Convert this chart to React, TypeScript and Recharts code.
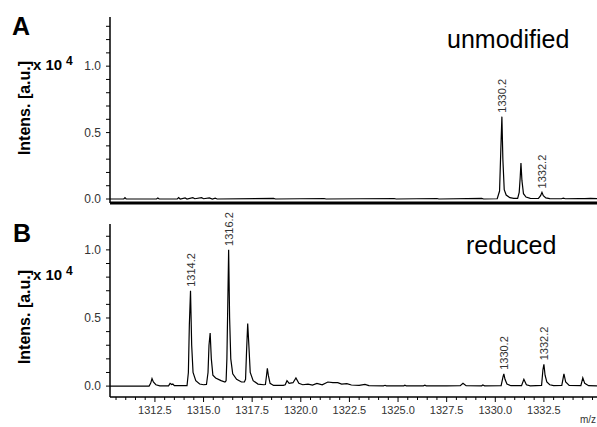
import { LineChart, Line, XAxis, YAxis, ReferenceDot } from "recharts";

// panel A: unmodified peptide spectrum (m/z, intensity x 10^4)
const topMz = [
  1310.19, 1310.9, 1310.96, 1311.02, 1312.58, 1312.65, 1312.72, 1313.65, 1313.72, 1313.8,
  1314.05, 1314.15, 1314.45, 1314.55, 1314.9, 1315.0, 1315.3, 1315.45, 1315.6, 1315.7,
  1318.6, 1318.7, 1321.2, 1321.3, 1324.8, 1324.9, 1327.0, 1327.1, 1329.3, 1329.4,
  1330.1, 1330.22, 1330.28, 1330.34, 1330.39, 1330.46, 1330.56, 1330.75, 1330.95,
  1331.15, 1331.23, 1331.28, 1331.32, 1331.37, 1331.45, 1331.58, 1331.8,
  1332.22, 1332.33, 1332.4, 1332.47, 1332.6, 1332.8,
  1333.4, 1333.5, 1333.6, 1334.3, 1334.6, 1334.9, 1335.23,
];
const topIntensity = [
  0, 0, 0.01, 0, 0, 0.008, 0, 0, 0.01, 0,
  0.008, 0, 0.01, 0.002, 0.01, 0.002, 0.008, 0, 0.006, 0,
  0.005, 0, 0.004, 0, 0.004, 0, 0.004, 0, 0.005, 0,
  0.002, 0.06, 0.35, 0.62, 0.3, 0.07, 0.03, 0.01, 0.005,
  0.005, 0.05, 0.16, 0.27, 0.14, 0.04, 0.015, 0.005,
  0.004, 0.025, 0.05, 0.025, 0.008, 0.003,
  0.002, 0.007, 0.002, 0.004, 0.003, 0.005, 0.003,
];

// panel B: reduced peptide spectrum
const bottomMz = [
  1310.19, 1312.2, 1312.28, 1312.35, 1312.42, 1312.55, 1312.75,
  1313.2, 1313.28, 1313.36, 1313.42, 1313.5,
  1314.15, 1314.22, 1314.27, 1314.33, 1314.39, 1314.46, 1314.6, 1314.8, 1315.0,
  1315.15, 1315.23, 1315.28, 1315.34, 1315.4, 1315.48, 1315.62, 1315.9, 1316.1,
  1316.16, 1316.2, 1316.24, 1316.29, 1316.34, 1316.4, 1316.5, 1316.7, 1316.95, 1317.1,
  1317.16, 1317.21, 1317.27, 1317.33, 1317.4, 1317.55, 1317.8, 1318.1,
  1318.18, 1318.24, 1318.28, 1318.33, 1318.42, 1318.6, 1319.1,
  1319.2, 1319.29, 1319.4, 1319.6, 1319.75, 1319.9, 1320.1, 1320.37, 1320.6,
  1320.83, 1321.1, 1321.39, 1321.65, 1321.9, 1322.1, 1322.37, 1322.6, 1323.0,
  1323.3, 1323.5, 1324.25, 1324.33, 1324.4, 1325.3, 1325.35, 1325.42, 1326.3, 1326.38, 1326.45,
  1327.5, 1328.2, 1328.34, 1328.5, 1329.3, 1329.36, 1329.45,
  1330.3, 1330.4, 1330.44, 1330.5, 1330.6, 1330.8,
  1331.35, 1331.47, 1331.6, 1331.8,
  1332.38, 1332.45, 1332.5, 1332.56, 1332.65, 1332.8, 1333.0,
  1333.42, 1333.53, 1333.62, 1333.8,
  1334.4, 1334.5, 1334.6, 1334.8, 1335.23,
];
const bottomIntensity = [
  0, 0, 0.02, 0.055, 0.03, 0.01, 0.002,
  0.002, 0.02, 0.012, 0.015, 0.003,
  0.003, 0.1, 0.45, 0.7, 0.3, 0.1, 0.04, 0.015, 0.01,
  0.012, 0.1, 0.3, 0.39, 0.2, 0.08, 0.06, 0.04, 0.03,
  0.04, 0.2, 0.55, 1.0, 0.5, 0.2, 0.09, 0.05, 0.03, 0.03,
  0.05, 0.25, 0.46, 0.3, 0.1, 0.04, 0.015, 0.01,
  0.012, 0.08, 0.13, 0.08, 0.02, 0.005, 0.005,
  0.01, 0.04, 0.02, 0.025, 0.06, 0.02, 0.01, 0.015, 0.008,
  0.02, 0.01, 0.03, 0.025, 0.025, 0.015, 0.018, 0.008, 0.005,
  0.012, 0.003, 0.002, 0.006, 0.002, 0.002, 0.006, 0.002, 0.002, 0.007, 0.002,
  0.002, 0.003, 0.02, 0.003, 0.002, 0.008, 0.002,
  0.003, 0.07, 0.09, 0.05, 0.015, 0.003,
  0.003, 0.05, 0.01, 0.002,
  0.005, 0.12, 0.16, 0.08, 0.03, 0.01, 0.003,
  0.005, 0.09, 0.03, 0.005,
  0.003, 0.06, 0.02, 0.003, 0.002,
];

const topPeakLabels = ["1330.2", "1332.2"];
const topPeakMz = [1330.34, 1332.4];
const topPeakIntensity = [0.62, 0.05];

const bottomPeakLabels = ["1314.2", "1316.2", "1330.2", "1332.2"];
const bottomPeakMz = [1314.33, 1316.29, 1330.44, 1332.5];
const bottomPeakIntensity = [0.7, 1.0, 0.09, 0.16];

const xLabelTicks = [1312.5, 1315.0, 1317.5, 1320.0, 1322.5, 1325.0, 1327.5, 1330.0, 1332.5];
const yLabelTicks = [0.0, 0.5, 1.0];
const topYTicks = [0, 0.1, 0.2, 0.3, 0.4, 0.5, 0.6, 0.7, 0.8, 0.9, 1.0, 1.1, 1.2, 1.3];
const bottomYTicks = [0, 0.1, 0.2, 0.3, 0.4, 0.5, 0.6, 0.7, 0.8, 0.9, 1.0, 1.1];

const X_DOMAIN: [number, number] = [1310.19, 1335.23];
const FONT = "'Liberation Sans', Arial, sans-serif";

const xMinorTicks: number[] = [];
for (let v = 1310.5; v <= 1335.01; v += 0.5) xMinorTicks.push(Math.round(v * 10) / 10);

const topData = topMz.map((mz, i) => ({ mz, intensity: topIntensity[i] }));
const bottomData = bottomMz.map((mz, i) => ({ mz, intensity: bottomIntensity[i] }));

const isLabel = (list: number[], v: number) => list.some((t) => Math.abs(t - v) < 1e-6);

function YTick({ x, y, payload }: any) {
  const v = payload.value as number;
  return (
    <g>
      <line x1={x - 4} x2={x} y1={y} y2={y} stroke="#000" strokeWidth={1} />
      {isLabel(yLabelTicks, v) && (
        <text x={x - 9} y={y + 4} textAnchor="end" fontSize={12} fill="#333" fontFamily={FONT}>
          {v.toFixed(1)}
        </text>
      )}
    </g>
  );
}

function XTick({ x, y, payload }: any) {
  const v = payload.value as number;
  const major = isLabel(xLabelTicks, v);
  return (
    <g>
      <line x1={x} x2={x} y1={y} y2={y + (major ? 5 : 3)} stroke="#000" strokeWidth={1} />
      {major && (
        <text x={x} y={y + 17} textAnchor="middle" fontSize={11} fill="#333" fontFamily={FONT}>
          {v.toFixed(1)}
        </text>
      )}
    </g>
  );
}

function peakLabel(text: string) {
  return (p: any) => (
    <text
      x={p.cx + 4}
      y={p.cy - 4}
      transform={`rotate(-90 ${p.cx + 4} ${p.cy - 4})`}
      fontSize={11}
      fill="#333"
      fontFamily={FONT}
    >
      {text}
    </text>
  );
}

function Panel({ data, height, top, marginTop, yDomain, yTicks, labels, labelMz, labelInt, bottom }: any) {
  return (
    <div style={{ position: "absolute", left: 0, top, width: 597, height }}>
      <LineChart width={597} height={height} data={data} margin={{ top: marginTop, right: 0, bottom: 0, left: 0 }}>
        <XAxis
          dataKey="mz"
          type="number"
          domain={X_DOMAIN}
          allowDataOverflow
          ticks={bottom ? xMinorTicks : []}
          interval={0}
          height={bottom ? 30 : 7}
          tickSize={0}
          tickMargin={0}
          tickLine={false}
          tick={bottom ? <XTick /> : false}
          axisLine={{ stroke: "#000", strokeWidth: bottom ? 1.5 : 3 }}
        />
        <YAxis
          type="number"
          domain={yDomain}
          allowDataOverflow
          ticks={yTicks}
          interval={0}
          width={110}
          tickSize={0}
          tickMargin={0}
          tickLine={false}
          tick={<YTick />}
          axisLine={{ stroke: "#000", strokeWidth: 1.5 }}
        />
        <Line
          dataKey="intensity"
          type="linear"
          stroke="#000"
          strokeWidth={1.2}
          dot={false}
          isAnimationActive={false}
        />
        {labels.map((t: string, i: number) => (
          <ReferenceDot key={t + i} x={labelMz[i]} y={labelInt[i]} r={0} shape={peakLabel(t)} />
        ))}
      </LineChart>
    </div>
  );
}

function AxisTitle({ cy, baseline }: { cy: number; baseline: number }) {
  return (
    <g fontFamily={FONT} fill="#000">
      <text x={30} y={cy} transform={`rotate(-90 30 ${cy})`} textAnchor="middle" fontSize={16} fontWeight="bold">
        Intens. [a.u.]
      </text>
      <text x={33} y={baseline} fontSize={15} fontWeight="bold">
        x 10
      </text>
      <text x={66} y={baseline - 5} fontSize={12} fontWeight="bold">
        4
      </text>
    </g>
  );
}

export default function App() {
  return (
    <div style={{ position: "absolute", left: 0, top: 0, width: 597, height: 427, overflow: "hidden", background: "#fff" }}>
      <Panel
        data={topData}
        top={0}
        height={210}
        marginTop={17}
        yDomain={[-0.03, 1.37]}
        yTicks={topYTicks}
        labels={topPeakLabels}
        labelMz={topPeakMz}
        labelInt={topPeakIntensity}
        bottom={false}
      />
      <Panel
        data={bottomData}
        top={210}
        height={217}
        marginTop={14}
        yDomain={[-0.08, 1.19]}
        yTicks={bottomYTicks}
        labels={bottomPeakLabels}
        labelMz={bottomPeakMz}
        labelInt={bottomPeakIntensity}
        bottom
      />
      <svg width={597} height={427} style={{ position: "absolute", left: 0, top: 0, pointerEvents: "none" }}>
        <text x={12} y={35} fontSize={25} fontWeight="bold" fontFamily={FONT}>A</text>
        <text x={13} y={242} fontSize={25} fontWeight="bold" fontFamily={FONT}>B</text>
        <AxisTitle cy={108} baseline={70} />
        <AxisTitle cy={317} baseline={280} />
        <text x={447} y={48} fontSize={25} fontFamily={FONT}>unmodified</text>
        <text x={466} y={254} fontSize={25} fontFamily={FONT}>reduced</text>
        <text x={580} y={423} fontSize={10} fill="#333" fontFamily={FONT}>m/z</text>
      </svg>
    </div>
  );
}
